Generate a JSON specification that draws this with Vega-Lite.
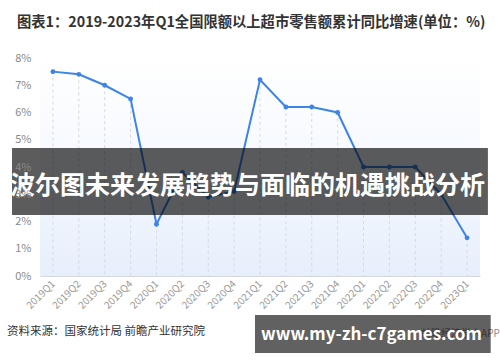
{
  "$schema": "https://vega.github.io/schema/vega-lite/v6.json",
  "width": 440,
  "height": 218,
  "autosize": {"type": "none"},
  "padding": {"left": 40, "top": 58, "right": 20, "bottom": 86},
  "background": "#ffffff",
  "config": {
    "font": "Noto Sans CJK SC",
    "view": {"stroke": null},
    "axisY": {"labelOverlap": false}
  },
  "title": {
    "text": "图表1：2019-2023年Q1全国限额以上超市零售额累计同比增速(单位：%)",
    "anchor": "start",
    "frame": "group",
    "fontSize": 14.3,
    "fontWeight": "bold",
    "color": "#333333",
    "dx": -23,
    "offset": 22
  },
  "datasets": {
    "supermarket": [
      {"quarter": "2019Q1", "growth": 7.5},
      {"quarter": "2019Q2", "growth": 7.4},
      {"quarter": "2019Q3", "growth": 7.0},
      {"quarter": "2019Q4", "growth": 6.5},
      {"quarter": "2020Q1", "growth": 1.9},
      {"quarter": "2020Q2", "growth": 3.8},
      {"quarter": "2020Q3", "growth": 2.9},
      {"quarter": "2020Q4", "growth": 3.1},
      {"quarter": "2021Q1", "growth": 7.2},
      {"quarter": "2021Q2", "growth": 6.2},
      {"quarter": "2021Q3", "growth": 6.2},
      {"quarter": "2021Q4", "growth": 6.0},
      {"quarter": "2022Q1", "growth": 4.0},
      {"quarter": "2022Q2", "growth": 4.0},
      {"quarter": "2022Q3", "growth": 4.0},
      {"quarter": "2022Q4", "growth": 3.0},
      {"quarter": "2023Q1", "growth": 1.4}
    ]
  },
  "layer": [
    {
      "data": {"values": [{}]},
      "mark": {
        "type": "rect",
        "fill": {
          "gradient": "linear",
          "x1": 0, "y1": 0, "x2": 0, "y2": 1,
          "stops": [
            {"offset": 0, "color": "#ffffff"},
            {"offset": 0.45, "color": "#f6f9fe"},
            {"offset": 1, "color": "#e7effc"}
          ]
        }
      },
      "encoding": {}
    },
    {
      "data": {"name": "supermarket"},
      "encoding": {
        "x": {
          "field": "quarter",
          "type": "ordinal",
          "scale": {"type": "point", "padding": 0.5},
          "axis": {
            "title": null,
            "labelAngle": -45,
            "labelAlign": "right",
            "labelBaseline": "middle",
            "labelFontSize": 10,
            "labelColor": "#9a9a9a",
            "labelPadding": 6,
            "labelOverlap": false,
            "ticks": false,
            "grid": false,
            "domainColor": "#d4d7dc"
          }
        },
        "y": {
          "field": "growth",
          "type": "quantitative",
          "scale": {"domain": [0, 8], "nice": false},
          "axis": {
            "title": null,
            "tickCount": 8,
            "labelExpr": "datum.value + '%'",
            "labelFontSize": 11,
            "labelColor": "#8a8a8a",
            "labelPadding": 9,
            "labelOverlap": false,
            "zindex": 1,
            "ticks": false,
            "domain": false,
            "grid": false
          }
        }
      },
      "layer": [
        {
          "mark": {"type": "rule", "stroke": "#d6d9de", "strokeWidth": 1, "strokeDash": [3, 3]},
          "encoding": {"y2": {"datum": 0}}
        },
        {
          "mark": {"type": "line", "stroke": "#3d84e8", "strokeWidth": 2}
        },
        {
          "mark": {"type": "point", "filled": true, "fill": "#3d84e8", "opacity": 1, "size": 24}
        }
      ]
    },
    {
      "data": {"values": [{}]},
      "layer": [
        {
          "mark": {"type": "rect", "fill": "#000000", "fillOpacity": 0.64},
          "encoding": {
            "x": {"datum": -0.0636, "type": "quantitative", "scale": {"domain": [0, 1]}, "axis": null},
            "x2": {"datum": 1.018},
            "y": {"datum": 0.587, "type": "quantitative", "scale": {"domain": [0, 1]}, "axis": null},
            "y2": {"datum": 0.28}
          }
        },
        {
          "mark": {"type": "text", "text": "波尔图未来发展趋势与面临的机遇挑战分析", "fill": "#ffffff", "fontSize": 25, "fontWeight": "bold", "align": "center", "baseline": "middle"},
          "encoding": {
            "x": {"datum": 0.4716, "type": "quantitative"},
            "y": {"datum": 0.413, "type": "quantitative"}
          }
        },
        {
          "mark": {"type": "text", "text": "资料来源：国家统计局 前瞻产业研究院", "fill": "#333333", "fontSize": 11.5, "align": "left", "baseline": "middle"},
          "encoding": {
            "x": {"datum": -0.075, "type": "quantitative"},
            "y": {"datum": -0.257, "type": "quantitative"}
          }
        },
        {
          "mark": {"type": "text", "text": "前瞻经济学人APP", "fill": "#8c8c8c", "fontSize": 10, "align": "right", "baseline": "middle"},
          "encoding": {
            "x": {"datum": 1.045, "type": "quantitative"},
            "y": {"datum": -0.267, "type": "quantitative"}
          }
        },
        {
          "mark": {"type": "rect", "fill": "#000000", "fillOpacity": 0.62},
          "encoding": {
            "x": {"datum": 0.4886, "type": "quantitative"},
            "x2": {"datum": 1.0243},
            "y": {"datum": -0.179, "type": "quantitative"},
            "y2": {"datum": -0.353}
          }
        },
        {
          "mark": {"type": "text", "text": "www.my-zh-c7games.com", "fill": "#ffffff", "fontSize": 17, "fontWeight": "bold", "align": "center", "baseline": "middle"},
          "encoding": {
            "x": {"datum": 0.7534, "type": "quantitative"},
            "y": {"datum": -0.271, "type": "quantitative"}
          }
        }
      ]
    }
  ],
  "resolve": {
    "scale": {"x": "independent", "y": "independent"},
    "axis": {"x": "independent", "y": "independent"}
  }
}
